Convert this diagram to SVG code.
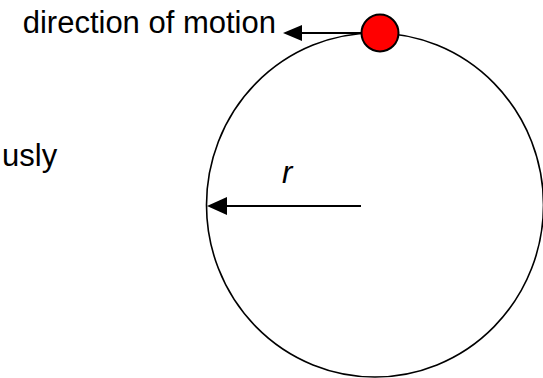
<svg xmlns="http://www.w3.org/2000/svg" width="543" height="378" viewBox="0 0 543 378">
<style>
.t{font-family:"Liberation Sans",Arial,sans-serif;font-size:31px;fill:#000}
.ln{stroke:#000;stroke-width:2;fill:none}
</style>
<rect width="543" height="378" fill="#fff"/>
<g id="orbit">
<ellipse cx="375" cy="205" rx="168.5" ry="172" fill="none" stroke="#000" stroke-width="1.6"/>
</g>
<g id="labels">
<text class="t" x="276" y="33" text-anchor="end">direction of motion</text>
<text class="t" x="2" y="166">usly</text>
<text class="t" x="282" y="183" font-style="italic">r</text>
</g>
<g id="connectors">
<line class="ln" x1="362" y1="33" x2="302" y2="33"/>
<path d="M283,33 L302,25 L302,41 z" fill="#000"/>
<line class="ln" x1="361" y1="206" x2="226" y2="206"/>
<path d="M207,206 L227,197 L227,215 z" fill="#000"/>
</g>
<g id="ball">
<circle cx="380" cy="33" r="18.5" fill="#f00" stroke="#000" stroke-width="2"/>
</g>
</svg>
